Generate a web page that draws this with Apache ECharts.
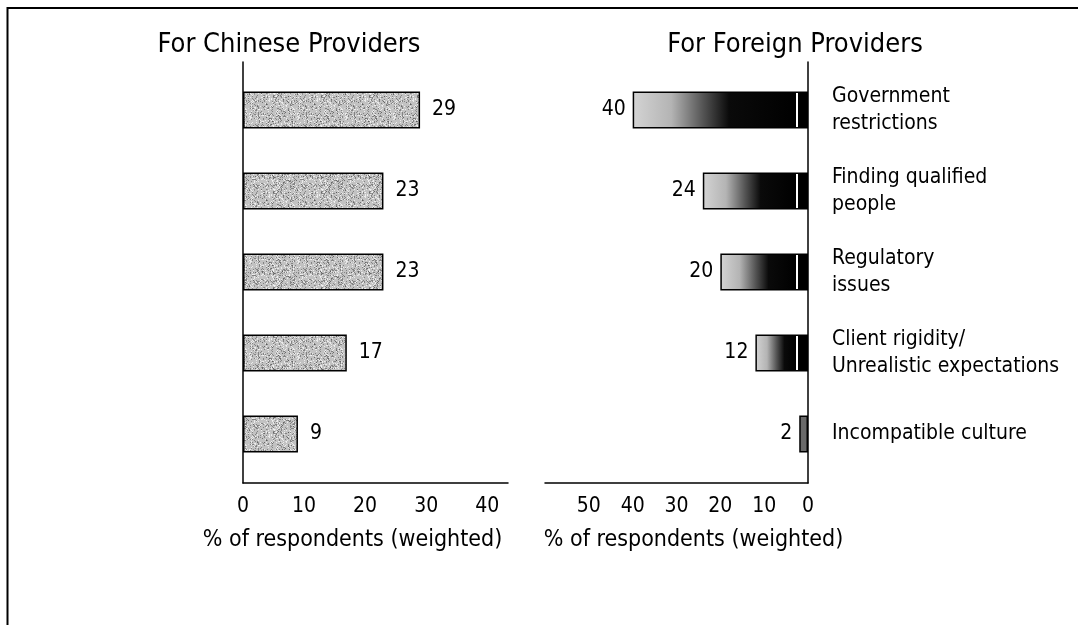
<!DOCTYPE html>
<html>
<head>
<meta charset="utf-8">
<script src="https://cdn.jsdelivr.net/npm/echarts@6/dist/echarts.min.js"></script>
<style>
  html, body { margin: 0; padding: 0; background: #fff; }
  #chart { width: 1078px; height: 625px; }
</style>
</head>
<body>
<div id="chart"></div>
<script>
// Obstacles named by survey respondents, split by provider origin
const categories = [
  'Government restrictions',
  'Finding qualified people',
  'Regulatory issues',
  'Client rigidity/ Unrealistic expectations',
  'Incompatible culture'
];
const categoryLabels = [
  'Government\nrestrictions',
  'Finding qualified\npeople',
  'Regulatory\nissues',
  'Client rigidity/\nUnrealistic expectations',
  'Incompatible culture'
];
const chineseValues = [29, 23, 23, 17, 9];
const foreignValues = [40, 24, 20, 12, 2];
const chineseTicks = [0, 10, 20, 30, 40];
const foreignTicks = [0, 10, 20, 30, 40, 50];

const FONT = '"DejaVu Sans Condensed", "DejaVu Sans", sans-serif';

// Speckled grey fill (deterministic hash noise, tiled)
function speckleCanvas(base) {
  const c = document.createElement('canvas');
  c.width = 48; c.height = 48;
  const ctx = c.getContext('2d');
  ctx.fillStyle = base;
  ctx.fillRect(0, 0, 48, 48);
  let s = 12345;
  const next = () => { s = (s * 1103515245 + 12345) & 0x7fffffff; return s / 0x7fffffff; };
  for (let i = 0; i < 900; i++) {
    const x = Math.floor(next() * 48), y = Math.floor(next() * 48);
    const t = next();
    ctx.fillStyle = t < 0.55 ? 'rgba(80,80,80,0.55)' : 'rgba(245,245,245,0.8)';
    ctx.fillRect(x, y, 1, 1);
  }
  return c;
}
const speckle = speckleCanvas('#c2c2c2');

const LEFT_MAX = 43.4;
const RIGHT_MAX = 60;
const RIGHT_WIDTH = 263;
const CAP_PX = 12; // dark end cap next to the axis, split off by a thin light gap

function foreignFill(v) {
  const len = v * RIGHT_WIDTH / RIGHT_MAX;
  if (len <= CAP_PX + 2) return '#6a6a6a';
  const p = 1 - CAP_PX / len;
  const g = 1.5 / len;
  return {
    type: 'linear', x: 0, y: 0, x2: 1, y2: 0,
    colorStops: [
      { offset: 0, color: '#d4d4d4' },
      { offset: 0.22, color: '#b4b4b4' },
      { offset: 0.40, color: '#555555' },
      { offset: 0.55, color: '#0a0a0a' },
      { offset: p - 0.0001, color: '#000000' },
      { offset: p, color: '#ffffff' },
      { offset: p + g, color: '#ffffff' },
      { offset: p + g + 0.0001, color: '#000000' },
      { offset: 1, color: '#000000' }
    ]
  };
}

const axisText = { color: '#000', fontFamily: FONT, fontSize: 21 };
const nameText = { color: '#000', fontFamily: FONT, fontSize: 23 };
const titleText = { fontFamily: FONT, fontSize: 27, fontWeight: 'normal', color: '#000' };

const option = {
  animation: false,
  backgroundColor: '#fff',
  textStyle: { fontFamily: FONT },
  title: [
    { text: 'For Chinese Providers', left: 289, top: 31, padding: 0, textAlign: 'center', textStyle: titleText },
    { text: 'For Foreign Providers', left: 795, top: 31, padding: 0, textAlign: 'center', textStyle: titleText }
  ],
  graphic: [{
    type: 'polyline',
    shape: { points: [[7.5, 625], [7.5, 8], [1078, 8]] },
    style: { stroke: '#000', lineWidth: 2, fill: null }
  }],
  grid: [
    { left: 243, top: 62, width: 265, height: 421 },
    { left: 243, top: 69.5, width: 265, height: 405 },
    { left: 545, top: 62, width: 263, height: 421 },
    { left: 545, top: 69.5, width: 263, height: 405 }
  ],
  xAxis: [
    {
      gridIndex: 0, type: 'value', min: 0, max: LEFT_MAX, interval: 10,
      axisLine: { show: true, lineStyle: { color: '#000', width: 1.5 } },
      axisTick: { show: false }, splitLine: { show: false },
      axisLabel: Object.assign({ margin: 13, showMaxLabel: false,
        formatter: v => chineseTicks.includes(v) ? String(v) : '' }, axisText),
      name: '% of respondents (weighted)', nameLocation: 'middle', nameGap: 46,
      nameTextStyle: Object.assign({ padding: [0, 46, 0, 0] }, nameText)
    },
    { gridIndex: 1, type: 'value', min: 0, max: LEFT_MAX, show: false },
    {
      gridIndex: 2, type: 'value', inverse: true, min: 0, max: RIGHT_MAX, interval: 10,
      axisLine: { show: true, lineStyle: { color: '#000', width: 1.5 } },
      axisTick: { show: false }, splitLine: { show: false },
      axisLabel: Object.assign({ margin: 13, showMaxLabel: false,
        formatter: v => foreignTicks.includes(v) ? String(v) : '' }, axisText),
      name: '% of respondents (weighted)', nameLocation: 'middle', nameGap: 46,
      nameTextStyle: Object.assign({ padding: [0, 0, 0, 34] }, nameText)
    },
    { gridIndex: 3, type: 'value', inverse: true, min: 0, max: RIGHT_MAX, show: false }
  ],
  yAxis: [
    {
      gridIndex: 0, type: 'category', inverse: true, data: categories,
      axisLine: { show: true, onZero: false, lineStyle: { color: '#000', width: 1.5 } },
      axisTick: { show: false }, axisLabel: { show: false }
    },
    { gridIndex: 1, type: 'category', inverse: true, data: categories, show: false },
    {
      gridIndex: 2, type: 'category', inverse: true, data: categories, position: 'right',
      axisLine: { show: true, onZero: false, lineStyle: { color: '#000', width: 1.5 } },
      axisTick: { show: false }, axisLabel: { show: false }
    },
    {
      gridIndex: 3, type: 'category', inverse: true, data: categories, position: 'right',
      axisLine: { show: false }, axisTick: { show: false },
      axisLabel: Object.assign({
        margin: 24, align: 'left', lineHeight: 27,
        formatter: (v, i) => categoryLabels[i]
      }, axisText)
    }
  ],
  series: [
    {
      type: 'bar', xAxisIndex: 1, yAxisIndex: 1, barWidth: 37,
      data: chineseValues,
      itemStyle: { color: { image: speckle, repeat: 'repeat' }, borderColor: '#000', borderWidth: 1.5 },
      label: Object.assign({ show: true, position: 'right', distance: 12 }, axisText)
    },
    {
      type: 'bar', xAxisIndex: 3, yAxisIndex: 3, barWidth: 37,
      data: foreignValues.map(v => ({ value: v, itemStyle: { color: foreignFill(v) } })),
      itemStyle: { borderColor: '#000', borderWidth: 1.5 },
      label: Object.assign({ show: true, position: 'left', distance: 7 }, axisText)
    }
  ]
};

const chart = echarts.init(document.getElementById('chart'), null, { renderer: 'canvas' });
chart.setOption(option);
</script>
</body>
</html>
